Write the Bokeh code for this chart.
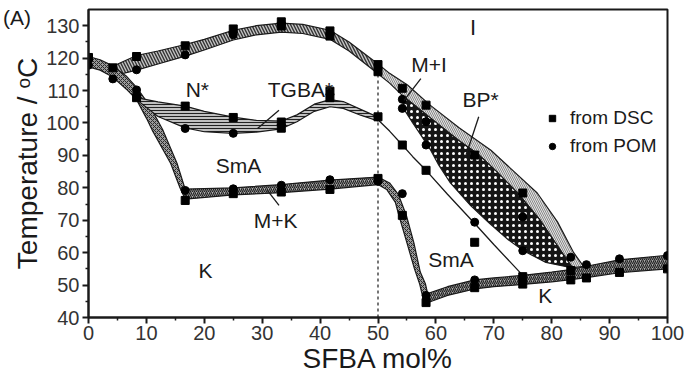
import math
from bokeh.plotting import figure
from bokeh.models import Range1d, Label, Legend, LegendItem, FixedTicker, Div
from bokeh.layouts import column
from bokeh.embed import file_html
from bokeh.resources import INLINE

# ---------------- data ----------------
# N*/I clearing band (x 4.2 -> 50)
top_x = [4.2, 8.3, 12, 16.7, 20, 25, 29, 33.3, 37, 41.7, 45, 50]
top_up = [117.5, 120.8, 122.2, 124.2, 125.8, 128.6, 130.0, 130.8, 130.4, 128.6, 125.0, 118.2]
top_lo = [114.5, 116.3, 118.2, 120.6, 122.5, 125.6, 127.2, 128.0, 127.6, 125.8, 122.2, 115.2]

# descending left band (x 0 -> 16.7)
desc_up_x = [0, 2, 4.2, 6.5, 8.3, 10.5, 12.8, 15.3, 16.7]
desc_up_y = [120.5, 119.5, 117.6, 114.5, 111.0, 105.5, 98.0, 87.5, 79.6]
desc_lo_x = [0, 2, 4.2, 6.5, 8.3, 10, 11, 14.2, 15.8, 16.7]
desc_lo_y = [117.3, 116.3, 114.2, 110.5, 107.2, 101.5, 97.8, 87.5, 80.0, 76.5]

# M+K band (x 16.7 -> 50)
mk_x = [16.7, 25, 33.3, 41.7, 50]
mk_up = [79.6, 80.0, 81.0, 82.4, 83.3]
mk_lo = [76.5, 77.8, 78.5, 79.6, 81.0]

# SmA/K band (x 50 -> 58.3)
smk_up_x = [50, 52, 53.5, 54.9, 56.2, 57.3, 58.2, 58.6]
smk_up_y = [83.3, 81.5, 78.0, 71.5, 63.0, 54.0, 50.3, 47.2]
smk_lo_x = [50, 51.5, 53, 53.6, 55, 56.3, 57.2, 58.0]
smk_lo_y = [81.0, 79.5, 75.5, 71.5, 63.0, 55.0, 50.3, 44.4]

# K band (x 58.3 -> 100)
k_x = [58.3, 62, 66.7, 70, 75, 80, 83.3, 86, 91.7, 100]
k_up = [47.2, 49.5, 51.6, 52.2, 53.0, 54.0, 54.8, 55.8, 57.8, 59.2]
k_lo = [44.4, 46.8, 48.8, 49.5, 50.2, 51.0, 51.7, 52.3, 53.8, 55.0]

# TGBA* band (x 8.3 -> 50)
tg_x = [8.3, 12, 16.7, 20, 25, 29, 33.3, 36, 39, 41.7, 44, 47, 50]
tg_up = [107.8, 106.5, 105.2, 103.6, 101.8, 100.8, 100.6, 102.5, 105.8, 107.2, 106.6, 104.2, 101.8]
tg_lo = [107.2, 102.0, 98.5, 97.3, 96.8, 97.2, 98.2, 100.4, 103.6, 105.0, 104.5, 102.4, 100.6]

# SmA / N* thin boundary line
sl_x = [50, 52, 54.2, 56, 58.3, 62, 66.7, 70, 75]
sl_y = [101.0, 97.5, 93.2, 89.6, 85.4, 78.0, 69.0, 62.5, 53.0]

# M+I band: I boundary and BP* top boundary
mi_up_x = [50, 52, 55.1, 59, 64, 69.5, 73.5, 77.5, 81, 83.8, 85.5]
mi_up_y = [118.2, 115.3, 111.7, 105.5, 98.5, 91.6, 85.0, 78.4, 69.5, 60.0, 55.8]
mi_lo_x = [50, 52, 54.2, 57, 60.5, 64, 67.2, 70.5, 74.1, 78, 81.6, 83.6]
mi_lo_y = [115.2, 112.3, 108.5, 104.5, 99.5, 94.5, 90.5, 85.0, 78.4, 70.0, 60.5, 55.3]

# BP* lower boundary
bp_lo_x = [54.2, 54.4, 56, 57.5, 59.1, 60.5, 62.5, 66, 69.3, 72.5, 75.2, 79, 83.6]
bp_lo_y = [108.5, 104.5, 100.0, 96.0, 91.6, 87.0, 81.5, 74.5, 69.0, 64.0, 60.5, 57.0, 55.3]

# measured points
dsc_x = [0, 4.2, 8.3, 8.3, 16.7, 16.7, 16.7, 25, 25, 25, 33.3, 33.3, 33.3, 33.3, 33.3,
         41.7, 41.7, 41.7, 41.7, 41.7, 50, 50, 50, 50, 54.2, 54.2, 54.2, 58.3, 58.3, 58.3,
         66.7, 66.7, 66.7, 75, 75, 75, 83.3, 83.3, 86, 91.7, 100]
dsc_y = [120.2, 117.0, 120.5, 107.8, 123.8, 105.2, 76.1, 129.0, 101.7, 78.2, 131.2, 129.9, 100.3, 98.4, 78.7,
         128.4, 126.8, 109.8, 107.8, 79.5, 118.0, 115.8, 101.9, 82.9, 110.7, 93.2, 71.5, 105.5, 85.4, 44.6,
         90.1, 63.2, 49.2, 78.4, 52.6, 50.3, 54.5, 51.6, 52.2, 53.9, 55.0]
pom_x = [0, 4.2, 8.3, 8.3, 16.7, 16.7, 16.7, 25, 25, 25, 33.3, 41.7, 50, 54.2, 54.2, 54.2,
         58.3, 58.3, 58.3, 66.7, 66.7, 75, 75, 83.3, 86, 91.7, 100]
pom_y = [117.8, 113.6, 116.4, 110.2, 121.0, 98.3, 79.2, 127.2, 96.8, 79.7, 80.8, 82.5, 82.0, 107.3, 104.5, 78.2,
         100.4, 93.2, 46.8, 69.4, 51.6, 71.0, 60.6, 58.6, 56.3, 58.1, 59.1]

x_ticks = [0, 10, 20, 30, 40, 50, 60, 70, 80, 90, 100]
y_ticks = [40, 50, 60, 70, 80, 90, 100, 110, 120, 130]

FONT = "Liberation Sans"
INK = "#1a1a1a"

p = figure(width=685, height=384, output_backend="svg", toolbar_location=None,
           x_range=Range1d(0, 100), y_range=Range1d(40, 135),
           min_border_left=88, min_border_right=18, min_border_top=9, min_border_bottom=67)
p.background_fill_color = "white"
p.border_fill_color = "white"
p.outline_line_color = INK
p.outline_line_width = 2
p.grid.visible = False

for ax in (p.xaxis[0], p.yaxis[0]):
    ax.axis_line_width = 2
    ax.axis_line_color = INK
    ax.major_tick_line_color = INK
    ax.minor_tick_line_color = INK
    ax.major_tick_line_width = 2
    ax.minor_tick_line_width = 1.5
    ax.major_tick_out = 6
    ax.major_tick_in = 0
    ax.minor_tick_out = 3
    ax.minor_tick_in = 0
    ax.major_label_text_font = FONT
    ax.major_label_text_font_size = "20px"
    ax.major_label_text_color = "#333333"
    ax.axis_label_text_font = FONT
    ax.axis_label_text_font_size = "28px"
    ax.axis_label_text_font_style = "normal"
    ax.axis_label_text_color = INK
    ax.axis_label_standoff = 0
p.xaxis.ticker = FixedTicker(ticks=x_ticks, minor_ticks=[t + 5 for t in x_ticks[:-1]])
p.yaxis.ticker = FixedTicker(ticks=y_ticks, minor_ticks=[t + 5 for t in y_ticks[:-1]])
p.xaxis.major_label_standoff = 2
p.yaxis.major_label_standoff = 3
p.xaxis.axis_label = "SFBA mol%"
p.yaxis.axis_label = "Temperature / \u1d52C"

def band(xs_up, ys_up, xs_lo, ys_lo, fill, hatch, hcol, hscale, hweight=1.0):
    xs = list(xs_up) + list(xs_lo)[::-1]
    ys = list(ys_up) + list(ys_lo)[::-1]
    p.patch(xs, ys, fill_color=fill, line_color=INK, line_width=1.2,
            hatch_pattern=hatch, hatch_color=hcol, hatch_scale=hscale, hatch_weight=hweight)

band(top_x, top_up, top_x, top_lo, "#c4c4c4", "\\", "#333333", 6, 1.4)
band(desc_up_x, desc_up_y, desc_lo_x, desc_lo_y, "#9a9a9a", "x", "#2a2a2a", 4, 1.0)
band(mk_x, mk_up, mk_x, mk_lo, "#b0b0b0", "/", "#222222", 4, 1.2)
band(smk_up_x, smk_up_y, smk_lo_x, smk_lo_y, "#9a9a9a", "x", "#2a2a2a", 4, 1.0)
band(k_x, k_up, k_x, k_lo, "#a8a8a8", "/", "#222222", 4, 1.2)
band(tg_x, tg_up, tg_x, tg_lo, "#c0c0c0", "-", "#222222", 3, 1.0)
band(mi_up_x, mi_up_y, mi_lo_x, mi_lo_y, "#e2e2e2", "\\", "#8a8a8a", 4, 1.0)
i0 = mi_lo_x.index(54.2)
band(mi_lo_x[i0:], mi_lo_y[i0:], bp_lo_x, bp_lo_y, "#151515", ".", "white", 6, 3)

p.line(sl_x, sl_y, line_color=INK, line_width=1.3)
p.segment(x0=[50], y0=[40], x1=[50], y1=[114.8], line_color=INK, line_width=1.2, line_dash="3 3")

sq = p.scatter(dsc_x, dsc_y, marker="square", size=8, fill_color="black", line_color="black")
ci = p.scatter(pom_x, pom_y, marker="circle", size=8, fill_color="black", line_color="black")

# pointer lines
p.segment(x0=[32.9, 30.9, 57.4, 67.4], y0=[103.9, 79.2, 113.7, 101.9],
          x1=[29.2, 32.9, 54.5, 65.1], y1=[98.3, 74.6, 107.0, 89.5],
          line_color=INK, line_width=1.3)

def lab(x, y, t, size="21px"):
    p.add_layout(Label(x=x, y=y, text=t, text_font=FONT, text_font_size=size,
                       text_color=INK, text_align="center", text_baseline="middle"))

lab(66.4, 129.3, "I", "22px")
lab(18.8, 110.2, "N*")
lab(36.6, 110.2, "TGBA*")
lab(25.9, 87.0, "SmA")
lab(32.3, 70.0, "M+K")
lab(20.2, 54.4, "K")
lab(58.8, 117.9, "M+I")
lab(67.7, 107.3, "BP*")
lab(62.6, 57.8, "SmA")
lab(78.9, 46.9, "K")

legend = Legend(items=[LegendItem(label="from DSC", renderers=[sq]),
                       LegendItem(label="from POM", renderers=[ci])],
                location=(456, 160), glyph_width=16, glyph_height=20, label_height=20,
                spacing=6, padding=0, margin=0, label_standoff=10,
                label_text_font=FONT, label_text_font_size="19px", label_text_color=INK,
                border_line_color=None, background_fill_alpha=0)
p.add_layout(legend)

tag = Div(text='<span style="position:absolute; left:3px; top:7px; z-index:10; '
               'font-family:\'Liberation Sans\', Arial, sans-serif; font-size:21px !important; color:#1a1a1a; '
               'white-space:nowrap; line-height:21px;">(A)</span>',
          width=0, height=0, margin=0, styles={"overflow": "visible", "z-index": "10", "font-size": "21px"})

layout = column(tag, p, spacing=0)
open("out.html", "w").write(file_html(layout, INLINE))
